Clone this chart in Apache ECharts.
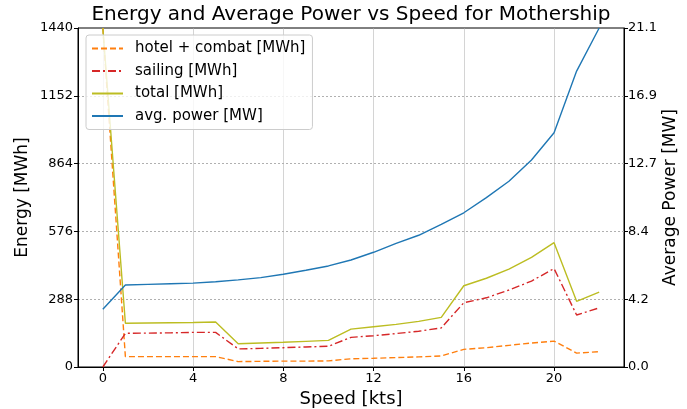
<!DOCTYPE html>
<html>
<head>
<meta charset="utf-8">
<script src="https://cdn.jsdelivr.net/npm/echarts@6/dist/echarts.min.js"></script>
<style>
  html, body { margin: 0; padding: 0; background: #fff; }
  #chart { width: 687px; height: 409px; }
</style>
</head>
<body>
<div id="chart"></div>
<script>
// Speed steps in knots
const speeds = [0, 1, 2, 3, 4, 5, 6, 7, 8, 9, 10, 11, 12, 13, 14, 15, 16, 17, 18, 19, 20, 21, 22];
// Energy per leg [MWh]
const hotelCombat = [1440, 44, 44, 44, 44, 44, 23, 24, 25, 25, 26, 35, 37, 40, 43, 47, 75, 82, 92, 102, 110, 59, 65];
const sailing = [0, 143, 144, 145, 147, 147, 77, 79, 82, 85, 88, 126, 133, 142, 152, 166, 273, 294, 327, 365, 418, 221, 251];
const total = [1440, 186, 187, 188, 189, 191, 99, 102, 105, 109, 113, 161, 171, 181, 194, 211, 345, 377, 416, 466, 528, 279, 318];
// Average propulsion power [MW]
const avgPower = [3.59, 5.10, 5.14, 5.18, 5.22, 5.31, 5.42, 5.56, 5.77, 6.02, 6.29, 6.66, 7.14, 7.70, 8.20, 8.88, 9.60, 10.54, 11.56, 12.88, 14.58, 18.42, 21.1];

// Axis ticks
const speedTicks = [0, 4, 8, 12, 16, 20];
const energyTicks = [0, 288, 576, 864, 1152, 1440];
const powerTicks = [0, 4.22, 8.44, 12.66, 16.88, 21.1];

const FONT = 'DejaVu Sans';
const pair = (ys) => speeds.map((s, i) => [s, ys[i]]);

const chart = echarts.init(document.getElementById('chart'), null, { renderer: 'canvas' });

chart.setOption({
  animation: false,
  backgroundColor: '#fff',
  title: {
    text: 'Energy and Average Power vs Speed for Mothership',
    left: 351,
    textAlign: 'center',
    top: 5,
    padding: 0,
    textStyle: { fontFamily: FONT, fontSize: 20, fontWeight: 'normal', color: '#000' }
  },
  grid: {
    left: 78, right: 63, top: 28, bottom: 42,
    outerBoundsMode: 'none',
    containLabel: false,
    show: true, borderColor: '#000', borderWidth: 1
  },
  legend: {
    orient: 'vertical',
    left: 86, top: 35,
    padding: [6, 7, 6, 5],
    itemGap: 7.5,
    itemWidth: 31,
    itemHeight: 14,
    backgroundColor: 'rgba(255,255,255,0.8)',
    borderColor: '#cccccc',
    borderWidth: 1,
    borderRadius: 3,
    itemStyle: { opacity: 0 },
    textStyle: { fontFamily: FONT, fontSize: 15, lineHeight: 15, color: '#000', padding: [0, 0, 0, 7] },
    data: ['hotel + combat [MWh]', 'sailing [MWh]', 'total [MWh]', 'avg. power [MW]']
  },
  xAxis: {
    type: 'value',
    min: -1.1, max: 23.1,
    name: 'Speed [kts]',
    nameLocation: 'middle',
    nameGap: 21,
    nameTextStyle: { fontFamily: FONT, fontSize: 18, color: '#000' },
    axisLine: { show: true, onZero: false, lineStyle: { color: '#000', width: 1 } },
    axisTick: { show: true, inside: false, length: 4, customValues: speedTicks, lineStyle: { color: '#000' } },
    axisLabel: { customValues: speedTicks, margin: 5, fontFamily: FONT, fontSize: 13, color: '#000' },
    splitLine: { show: true, lineStyle: { color: '#b0b0b0', width: 1, opacity: 0.55 } }
  },
  yAxis: [
    {
      type: 'value',
      min: 0, max: 1440, interval: 288,
      name: 'Energy [MWh]',
      nameLocation: 'middle',
      nameGap: 47,
      nameMoveOverlap: false,
      nameRotate: 90,
      nameTextStyle: { fontFamily: FONT, fontSize: 17, color: '#000' },
      axisLine: { show: true, onZero: false, lineStyle: { color: '#000', width: 1 } },
      axisTick: { show: true, inside: false, length: 4, customValues: energyTicks, lineStyle: { color: '#000' } },
      axisLabel: {
        customValues: energyTicks, margin: 5, fontFamily: FONT, fontSize: 13, color: '#000',
        formatter: (v) => String(v)
      },
      splitLine: { show: true, showMinLine: false, showMaxLine: false, lineStyle: { color: '#b0b0b0', width: 1, type: [2, 2] } }
    },
    {
      type: 'value',
      position: 'right',
      min: 0, max: 21.1,
      name: 'Average Power [MW]',
      nameLocation: 'middle',
      nameGap: 38,
      nameMoveOverlap: false,
      nameRotate: 90,
      nameTextStyle: { fontFamily: FONT, fontSize: 17, color: '#000' },
      axisLine: { show: true, onZero: false, lineStyle: { color: '#000', width: 1 } },
      axisTick: { show: true, inside: false, length: 4, customValues: powerTicks, lineStyle: { color: '#000' } },
      axisLabel: {
        customValues: powerTicks, margin: 4, fontFamily: FONT, fontSize: 13, color: '#000',
        formatter: (v) => v.toFixed(1)
      },
      splitLine: { show: false }
    }
  ],
  series: [
    {
      name: 'hotel + combat [MWh]', type: 'line', yAxisIndex: 0,
      data: pair(hotelCombat), symbol: 'none', clip: true,
      color: '#ff7f0e',
      lineStyle: { color: '#ff7f0e', width: 1.4, type: [6, 3] }
    },
    {
      name: 'sailing [MWh]', type: 'line', yAxisIndex: 0,
      data: pair(sailing), symbol: 'none', clip: true,
      color: '#d62728',
      lineStyle: { color: '#d62728', width: 1.4, type: [8, 3, 2, 3] }
    },
    {
      name: 'total [MWh]', type: 'line', yAxisIndex: 0,
      data: pair(total), symbol: 'none', clip: true,
      color: '#bcbd22',
      lineStyle: { color: '#bcbd22', width: 1.4 }
    },
    {
      name: 'avg. power [MW]', type: 'line', yAxisIndex: 1,
      data: pair(avgPower), symbol: 'none', clip: true,
      color: '#1f77b4',
      lineStyle: { color: '#1f77b4', width: 1.4 }
    }
  ]
});
</script>
</body>
</html>
